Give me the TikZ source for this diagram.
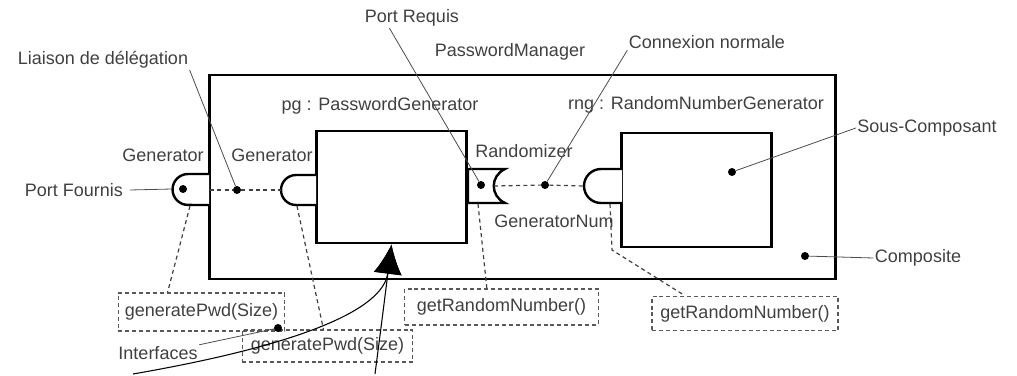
\documentclass[tikz,border=0pt]{standalone}
\usepackage{fontspec}
\setmainfont{Liberation Sans}
\usetikzlibrary{positioning,arrows.meta}

\tikzset{
  lbl/.style={text=black!75,inner sep=1pt,font=\fontsize{13.5}{15}\selectfont},
  comp/.style={draw,line width=2.2pt},
  port/.style={draw,line width=1.8pt,fill=white},
  iface/.style={lbl,draw=black!65,dash pattern=on 3pt off 2.2pt,line width=0.9pt,inner sep=0pt},
  dot/.style={circle,fill,inner sep=0pt,minimum size=6pt},
  lead/.style={draw=black!70,line width=0.6pt},
  link/.style={draw=black!75,dash pattern=on 3pt off 2.5pt,line width=0.9pt}
}

\begin{document}
\begin{tikzpicture}[x=0.75pt,y=-0.75pt,>=Latex]
  \useasboundingbox (0,0) rectangle (1017,375);

  % composite and parts
  \node[comp,minimum width=470pt,minimum height=153pt] (mgr) at (522.5,177) {};
  \node[comp,minimum width=113pt,minimum height=84pt] (pg) at (391.5,187) {};
  \node[comp,minimum width=112pt,minimum height=85.5pt] (rng) at (696.5,190) {};

  % ports
  \draw[port] (209,174) -- (188,174) arc[start angle=90,end angle=270,radius=11.6pt] -- (209,205);
  \draw[port] (316,175) -- (296,175) arc[start angle=90,end angle=270,radius=11.25pt] -- (316,205);
  \draw[port] (622,169) -- (601,169) arc[start angle=90,end angle=270,radius=12.75pt] -- (622,203);
  \draw[port] (468,169) -- (505,169) .. controls (490,176) and (490,196) .. (505,203) -- (468,203) -- cycle;

  \coordinate (portOutW) at (172,189);
  \coordinate (portOutE) at (210,190);
  \coordinate (portOutS) at (190,206);
  \coordinate (portInW) at (281,190);
  \coordinate (portInS) at (297,206);
  \coordinate (portReqE) at (494,186);
  \coordinate (portReqS) at (478,204);
  \coordinate (portRngW) at (584,186);
  \coordinate (portRngS) at (610,204);
  \coordinate (bendRng) at (612,250);

  % dots
  \node[dot] (dOut) at (183,189) {};
  \node[dot] (dLiaison) at (237,190) {};
  \node[dot] (dReq) at (481,185) {};
  \node[dot] (dConn) at (545,185) {};
  \node[dot] (dSous) at (732,172) {};
  \node[dot] (dComp) at (805,256) {};

  % labels
  \node[lbl] (lblLiaison) at (103,60) {Liaison de délégation};
  \node[lbl] (lblGenOut) at (163,155) {Generator};
  \node[lbl] (lblGenIn) at (272,155) {Generator};
  \node[lbl] (lblFournis) at (74,190) {Port Fournis};
  \node[lbl] (lblPg) at (380,106) {pg : PasswordGenerator};
  \node[lbl] (lblMgr) at (510,52) {PasswordManager};
  \node[lbl] (lblRequis) at (412,18) {Port Requis};
  \node[lbl] (lblConn) at (707,42) {Connexion normale};
  \node[lbl] (lblRng) at (696,105) {rng : RandomNumberGenerator};
  \node[lbl] (lblRand) at (524,151) {Randomizer};
  \node[lbl] (lblGenNum) at (554,221) {GeneratorNum};
  \node[lbl] (lblSous) at (927,128) {Sous-Composant};
  \node[lbl] (lblComp) at (918,258) {Composite};
  \node[lbl] (lblIface) at (158,353) {Interfaces};

  % interfaces
  \node[iface,minimum width=125pt,minimum height=28.5pt] (ifA) at (201.5,312) {generatePwd(Size)};
  \node[iface,minimum width=128pt,minimum height=24pt] (ifB) at (327.5,346) {generatePwd(Size)};
  \node[iface,minimum width=145pt,minimum height=27pt] (ifC) at (501.5,307) {getRandomNumber()};
  \node[iface,minimum width=139.5pt,minimum height=26pt] (ifD) at (745,313.5) {getRandomNumber()};
  \node[dot] (dIface) at (278,328) {};

  % connections
  \draw[link] (portOutE) -- (dLiaison) -- (portInW);
  \draw[link] (portReqE) -- (dConn) -- (portRngW);
  \draw[link] (portOutS) -- ([xshift=37.5pt]ifA.north west);
  \draw[link] (portInS) -- ([xshift=-3pt]ifB.north);
  \draw[link] (portReqS) -- ([xshift=-11pt]ifC.north);
  \draw[link] (portRngS) -- (bendRng) -- ([xshift=25pt]ifD.north west);

  % leaders
  \draw[lead] (lblLiaison.south east) -- (dLiaison);
  \draw[lead] ([xshift=4pt]lblFournis.east) -- (portOutW);
  \draw[lead] ([xshift=-17pt]lblRequis.south) -- (dReq);
  \draw[lead] (lblConn.south west) -- (dConn);
  \draw[lead] (lblSous.west) -- (dSous);
  \draw[lead] (lblComp.west) -- (dComp);
  \draw[lead] (lblIface.north east) -- (dIface);

  \coordinate (tailA) at (133,374);
  \coordinate (tailB) at (375,374);
  \draw[line width=0.8pt,-{Latex[length=22pt,width=21pt]}] (tailA) .. controls (300,345) and (383,310) .. (pg.south);
  \draw[line width=0.8pt,-{Latex[length=22pt,width=21pt]}] (tailB) .. controls (382,320) .. (pg.south);
\end{tikzpicture}
\end{document}
